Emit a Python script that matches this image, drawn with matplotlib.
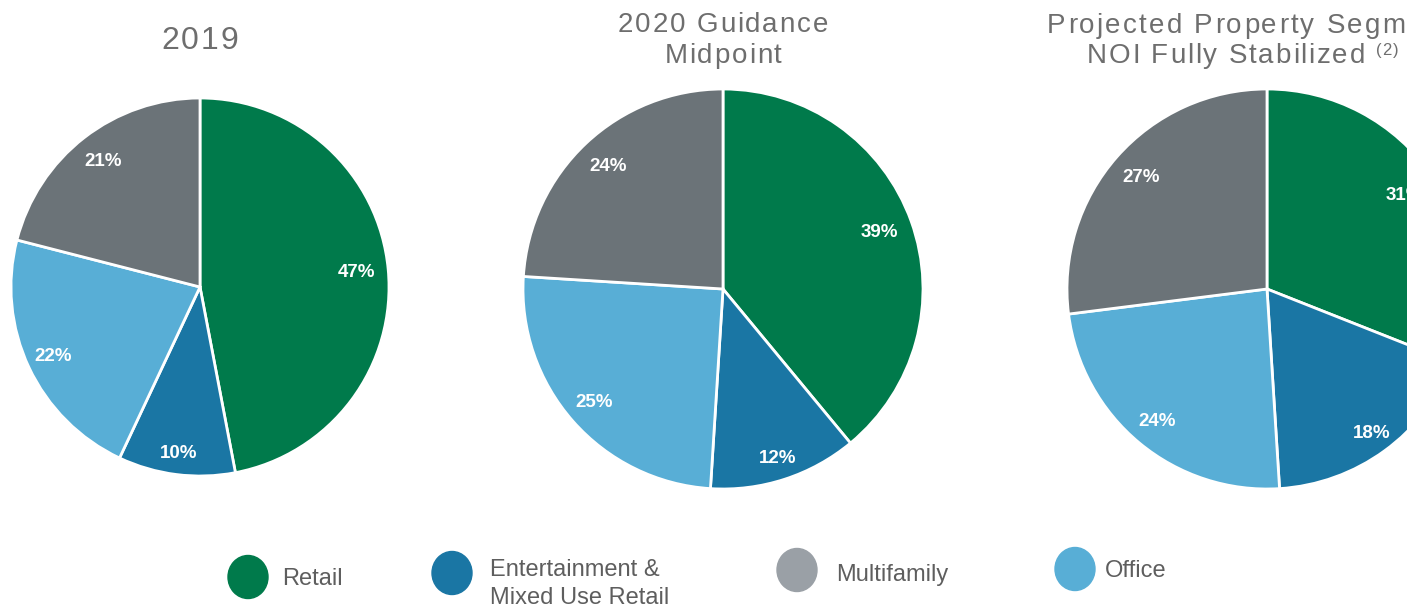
import numpy as np
import matplotlib.pyplot as plt
from matplotlib.patches import Ellipse
from matplotlib.font_manager import FontProperties, findfont, get_font

plt.rcParams['font.family'] = ['Liberation Sans', 'DejaVu Sans']

# segment shares of NOI, in pie order (clockwise from 12 o'clock)
segments = ["Retail", "Entertainment", "Office", "Multifamily"]
share_2019 = [47, 10, 22, 21]
share_2020 = [39, 12, 25, 24]
share_stabilized = [31, 18, 24, 27]

colors = {
    "Retail": "#007a4b",
    "Entertainment": "#1a76a4",
    "Office": "#58aed6",
    "Multifamily": "#6b7378",
}
# how far out (fraction of radius) each percentage label sits
label_dist = {"Retail": 0.83, "Entertainment": 0.89, "Office": 0.86, "Multifamily": 0.84}
legend_gray = "#9aa0a6"
title_color = "#6e6e6e"

W, H = 1407, 607
DPI = 100
fig = plt.figure(figsize=(W / DPI, H / DPI), dpi=DPI)
ax = fig.add_axes([0, 0, 1, 1])


def char_advances(text, size, weight="normal"):
    # per-glyph advance widths in pixels
    prop = FontProperties(family="Liberation Sans", weight=weight)
    font = get_font(findfont(prop))
    font.set_size(size, DPI)
    return [font.load_char(ord(c)).linearHoriAdvance / 65536 for c in text]


def tracked_text(x, y, text, size, track=2.0, ha="center", color=title_color):
    # draw text with extra letter spacing; y is the baseline, measured from top
    adv = char_advances(text, size)
    total = sum(adv) + track * (len(text) - 1)
    x0 = x - total / 2 if ha == "center" else x
    for c, a in zip(text, adv):
        ax.text(x0, H - y, c, ha="left", va="baseline", fontsize=size,
                color=color, clip_on=False)
        x0 += a + track
    return x0


# pie centers / radii in pixel space (y measured from top)
pies = [
    (share_2019, 200, 287, 189),
    (share_2020, 723, 289, 200),
    (share_stabilized, 1267, 289, 200),
]

for shares, cx, cy, r in pies:
    wedges, _, autotexts = ax.pie(
        shares,
        colors=[colors[s] for s in segments],
        center=(cx, H - cy),
        radius=r,
        startangle=90,
        counterclock=False,
        autopct=lambda p: f"{p:.0f}%",
        wedgeprops=dict(edgecolor="white", linewidth=2),
        textprops=dict(color="white", fontsize=13.5, fontweight="bold"),
        frame=True,
    )
    for seg, w, t in zip(segments, wedges, autotexts):
        mid = np.deg2rad((w.theta1 + w.theta2) / 2)
        d = label_dist[seg] * r
        t.set_position((cx + d * np.cos(mid), H - cy + d * np.sin(mid)))

ax.set_xlim(0, W)
ax.set_ylim(0, H)
ax.set_aspect("equal")
ax.axis("off")

# titles
tracked_text(200, 49, "2019", 23, track=2.0)
tracked_text(723, 32, "2020 Guidance", 20, track=1.8)
tracked_text(723, 63, "Midpoint", 20, track=1.8)
tracked_text(1047, 33, "Projected Property Segment", 20, track=2.2, ha="left")
end = tracked_text(1087, 63, "NOI Fully Stabilized", 20, track=1.8, ha="left")
tracked_text(end + 9, 55, "(2)", 12, track=1.0, ha="left")

# legend row along the bottom
legend_items = [
    (["Retail"], colors["Retail"], 248, 577, 282, [585]),
    (["Entertainment &", "Mixed Use Retail"], colors["Entertainment"], 452, 573, 490, [576, 604]),
    (["Multifamily"], legend_gray, 797, 570, 836, [581]),
    (["Office"], colors["Office"], 1075, 569, 1105, [577]),
]
for lines, col, mx, my, tx, baselines in legend_items:
    ax.add_patch(Ellipse((mx, H - my), 40, 43, color=col))
    for line, by in zip(lines, baselines):
        ax.text(tx, H - by, line, ha="left", va="baseline", fontsize=17,
                color="#5e5e5e")

fig.savefig("out.png", dpi=DPI)
